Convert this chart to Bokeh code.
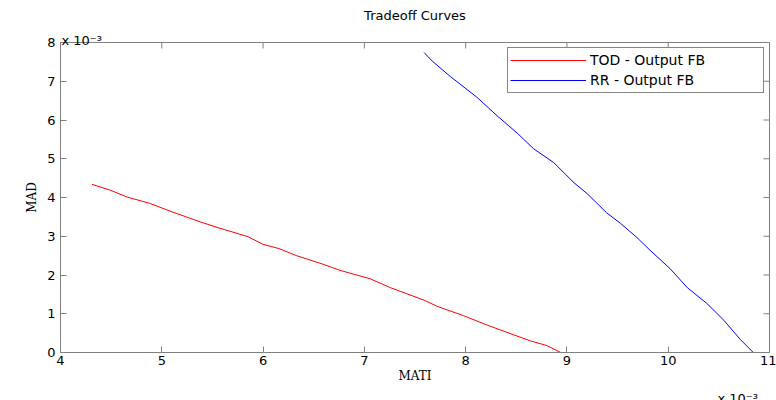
import numpy as np
from bokeh.plotting import figure
from bokeh.models import Label, FixedTicker, Range1d, Legend, LegendItem
from bokeh.embed import file_html
from bokeh.resources import INLINE

# values in units of 1e-3 (axes show "x 10^-3")
tod_mati = [4.31, 4.49, 4.66, 4.88, 5.08, 5.38, 5.57, 5.85, 6.00, 6.16, 6.33, 6.59,
            6.76, 7.06, 7.26, 7.59, 7.72, 7.98, 8.21, 8.47, 8.64, 8.80, 8.94]
tod_mad = [4.34, 4.19, 4.01, 3.85, 3.65, 3.37, 3.21, 2.99, 2.79, 2.68, 2.50, 2.28,
           2.12, 1.90, 1.67, 1.35, 1.19, 0.95, 0.71, 0.46, 0.30, 0.18, 0.0]
rr_mati = [7.59, 7.67, 7.85, 8.11, 8.31, 8.51, 8.67, 8.87, 9.07, 9.20, 9.39, 9.53,
           9.69, 9.82, 10.02, 10.19, 10.38, 10.55, 10.71, 10.84]
rr_mad = [7.74, 7.52, 7.12, 6.59, 6.11, 5.66, 5.26, 4.90, 4.38, 4.10, 3.61, 3.33,
          2.97, 2.64, 2.16, 1.67, 1.27, 0.83, 0.34, 0.0]
x_ticks = [4, 5, 6, 7, 8, 9, 10, 11]
y_ticks = [0, 1, 2, 3, 4, 5, 6, 7, 8]
x_lim = (4, 11)
y_lim = (0, 8)
series_names = ["TOD - Output FB", "RR - Output FB"]

SANS = "DejaVu Sans"
SERIF = "DejaVu Serif"
RULE = "gray"
TXT = "black"

p = figure(width=776, height=400, output_backend="svg", toolbar_location=None,
           x_range=Range1d(*x_lim), y_range=Range1d(*y_lim),
           min_border_left=60, min_border_right=7, min_border_top=32, min_border_bottom=38,
           title="Tradeoff Curves")
p.title.align = "center"
p.title.text_font = SANS
p.title.text_font_size = "13px"
p.title.text_font_style = "normal"
p.title.text_color = TXT
p.xgrid.visible = False
p.ygrid.visible = False
p.outline_line_color = RULE
p.outline_line_width = 1

for ax, ticks in ((p.xaxis[0], x_ticks), (p.yaxis[0], y_ticks)):
    ax.ticker = FixedTicker(ticks=ticks)
    ax.major_tick_in = 6
    ax.major_tick_out = 0
    ax.axis_line_color = RULE
    ax.axis_line_width = 1
    ax.major_tick_line_color = RULE
    ax.major_tick_line_width = 1
    ax.major_label_text_font = SANS
    ax.major_label_text_font_size = "13px"
    ax.major_label_text_color = TXT
    ax.axis_label_text_font = SERIF
    ax.axis_label_text_font_size = "12px"
    ax.axis_label_text_font_style = "normal"
    ax.axis_label_text_color = TXT
p.xaxis[0].axis_label = "MATI"
p.yaxis[0].axis_label = "MAD"
p.xaxis[0].major_label_standoff = 3
p.xaxis[0].axis_label_standoff = 1

# inward tick marks on the top and right edges (dash markers clipped by the frame)
p.scatter(x_ticks, [y_lim[1]] * len(x_ticks), marker="dash", size=12, angle=np.pi / 2,
          line_color=RULE, line_width=1)
p.scatter([x_lim[1]] * len(y_ticks), y_ticks, marker="dash", size=12, angle=0,
          line_color=RULE, line_width=1)

r1 = p.line(tod_mati, tod_mad, line_color="#ff0000", line_width=1)
r2 = p.line(rr_mati, rr_mad, line_color="#0000ff", line_width=1)

legend = Legend(items=[LegendItem(label=series_names[0], renderers=[r1]),
                       LegendItem(label=series_names[1], renderers=[r2])],
                location="top_right", margin=5, padding=2, spacing=0,
                glyph_width=76, label_width=171, label_standoff=4,
                label_text_font=SANS, label_text_font_size="14px",
                label_text_color=TXT, border_line_color="#101010")
p.add_layout(legend, "center")

# scale annotations "x 10^-3" in the side panels
p.add_layout(Label(x=x_lim[0], y=2, y_units="screen", x_offset=1, text="x 10\u207b\u00b3",
                   text_font=SANS, text_font_size="13px", text_color=TXT,
                   text_baseline="alphabetic"), "above")
p.add_layout(Label(x=x_lim[1], y=2, y_units="screen", x_offset=-52, text="x 10\u207b\u00b3",
                   text_font=SANS, text_font_size="13px", text_color=TXT,
                   text_baseline="alphabetic"), "below")

open("out.html", "w").write(file_html(p, INLINE))
